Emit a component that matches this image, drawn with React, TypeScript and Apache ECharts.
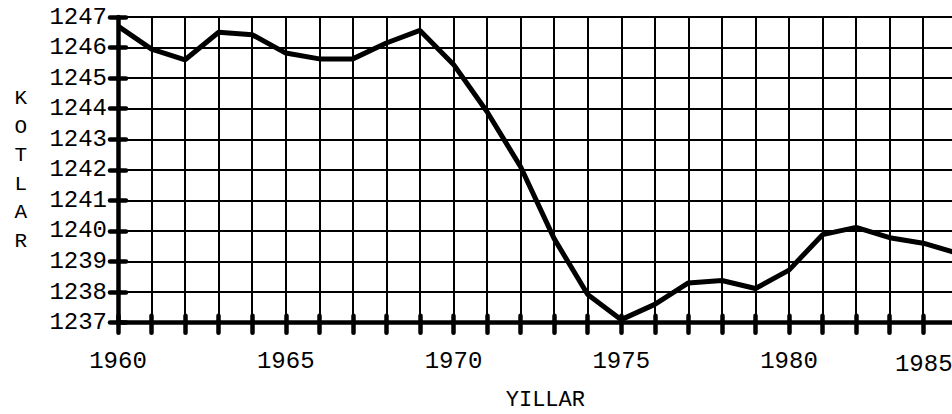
import React, { useEffect, useRef } from "react";
import * as echarts from "echarts";

const years: number[] = [
  1960, 1961, 1962, 1963, 1964, 1965, 1966, 1967, 1968, 1969,
  1970, 1971, 1972, 1973, 1974, 1975, 1976, 1977, 1978, 1979,
  1980, 1981, 1982, 1983, 1984, 1985,
];
const levels: number[] = [
  1246.7, 1245.95, 1245.6, 1246.5, 1246.42, 1245.82, 1245.63, 1245.63, 1246.15, 1246.56,
  1245.45, 1243.9, 1242.1, 1239.75, 1237.92, 1237.1, 1237.6, 1238.3, 1238.38, 1238.12,
  1238.72, 1239.88, 1240.12, 1239.78, 1239.6, 1239.28,
];
const xLabelYears: number[] = [1960, 1965, 1970, 1975, 1980, 1985];
const yAxisTitle = "KOTLAR";
const xAxisTitle = "YILLAR";

const FONT = "'Courier New', 'Liberation Mono', monospace";

export default function App() {
  const ref = useRef<HTMLDivElement>(null);
  useEffect(() => {
    document.body.style.margin = "0";
    if (!ref.current) return;
    const chart = echarts.init(ref.current, null, { renderer: "svg" });
    const xCommon = {
      type: "value" as const,
      min: 1960,
      max: 1985,
      interval: 1,
      position: "bottom" as const,
    };
    const yCommon = {
      type: "value" as const,
      min: 1237,
      max: 1247,
      interval: 1,
      position: "left" as const,
    };
    chart.setOption({
      animation: false,
      backgroundColor: "#ffffff",
      grid: {
        left: 118,
        top: 17,
        width: 838.75,
        height: 305.7,
        containLabel: false,
        outerBoundsMode: "none",
      },
      xAxis: [
        {
          ...xCommon,
          name: xAxisTitle,
          nameLocation: "middle",
          nameGap: 69,
          nameTextStyle: { fontFamily: FONT, fontSize: 22, lineHeight: 18, color: "#000", padding: [0, 0, 0, 16] },
          axisLine: { show: true, lineStyle: { color: "#000", width: 4.5 } },
          axisTick: { show: true, length: 10, lineStyle: { color: "#000", width: 4.5, cap: "round" } },
          splitLine: { show: true, lineStyle: { color: "#000", width: 2 } },
          axisLabel: {
            margin: 27,
            fontFamily: FONT,
            fontSize: 24,
            color: "#000",
            formatter: (v: number) =>
              xLabelYears.indexOf(v) >= 0 ? (v === 1985 ? "{e|" + v + "}" : String(v)) : "",
            rich: { e: { fontFamily: FONT, fontSize: 24, color: "#000", padding: [3, 66, 0, 0] } },
          },
        },
        {
          ...xCommon,
          axisLine: { show: false },
          axisTick: { show: true, inside: true, length: 7, lineStyle: { color: "#000", width: 4.5, cap: "round" } },
          splitLine: { show: false },
          axisLabel: { show: false },
        },
      ],
      yAxis: [
        {
          ...yCommon,
          name: yAxisTitle.split("").join("\n"),
          nameLocation: "middle",
          nameRotate: 0,
          nameGap: 91,
          nameTextStyle: { fontFamily: FONT, fontSize: 21, lineHeight: 28.5, color: "#000", align: "right", padding: [0, 0, 8, 0] },
          axisLine: { show: true, lineStyle: { color: "#000", width: 4.5 } },
          axisTick: { show: true, length: 8, lineStyle: { color: "#000", width: 4.5, cap: "round" } },
          splitLine: { show: true, lineStyle: { color: "#000", width: 2 } },
          axisLabel: {
            margin: 11,
            fontFamily: FONT,
            fontSize: 24,
            color: "#000",
            formatter: (v: number) => String(v),
          },
        },
        {
          ...yCommon,
          axisLine: { show: false },
          axisTick: { show: true, inside: true, length: 8, lineStyle: { color: "#000", width: 4.5, cap: "round" } },
          splitLine: { show: false },
          axisLabel: { show: false },
        },
      ],
      series: [
        {
          type: "line",
          xAxisIndex: 0,
          yAxisIndex: 0,
          data: years.map((y, i) => [y, levels[i]]),
          showSymbol: false,
          symbol: "none",
          lineStyle: { color: "#000", width: 5 },
          z: 5,
        },
      ],
    });
    return () => chart.dispose();
  }, []);
  return <div ref={ref} style={{ width: 952, height: 414, overflow: "hidden" }} />;
}
